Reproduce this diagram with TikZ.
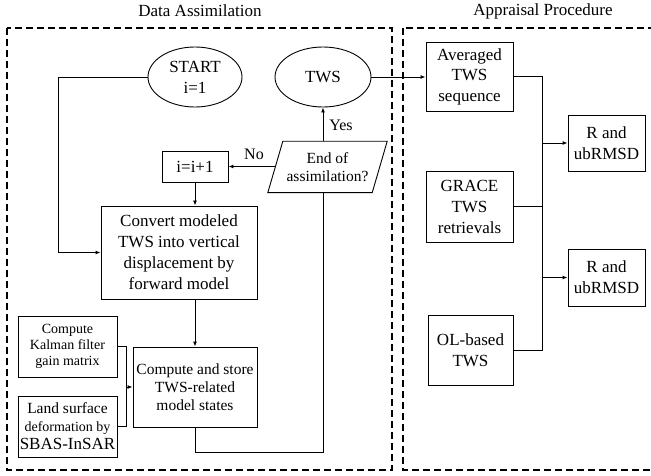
\documentclass[tikz,border=0pt]{standalone}
\usepackage{fontspec}
\setmainfont{Liberation Serif}
\usetikzlibrary{arrows.meta,shapes.geometric}
\begin{document}
\begin{tikzpicture}[x=1pt,y=-1pt,
  box/.style={draw, line width=0.9pt, align=center, inner sep=0pt,
    font=\fontsize{17}{21}\selectfont},
  oval/.style={box, ellipse},
  link/.style={line width=0.9pt},
  arr/.style={link, -{Latex[length=5pt,width=4pt]}},
  frame/.style={line width=1.2pt, dash pattern=on 7pt off 4pt},
  lbl/.style={font=\fontsize{16}{19}\selectfont},
  title/.style={font=\fontsize{17}{21}\selectfont}]
\useasboundingbox (0,0) rectangle (651,476);

% section frames and headings
\draw[frame] (7,28) rectangle (392,470);
\draw[frame] (403,28) rectangle (670,470);
\node[title] (t1) at (200,11) {Data Assimilation};
\node[title] (t2) at (543,11) {Appraisal Procedure};

% data assimilation loop
\node[oval, minimum width=94pt, minimum height=60pt] (start) at (195,77) {START\\i=1};
\node[oval, minimum width=96pt, minimum height=60pt] (tws) at (323,77) {TWS};
\node[box, minimum width=66pt, minimum height=31pt] (inc) at (195,166.5) {i=i+1};
\node[align=center, inner sep=0pt, minimum width=104pt, minimum height=51pt,
  font=\fontsize{15.5}{18}\selectfont] (endq) at (327.5,167) {End of\\assimilation?};
\draw[line width=0.9pt] ([xshift=7.5pt]endq.north west) -- ([xshift=7.5pt]endq.north east)
  -- ([xshift=-7.5pt]endq.south east) -- ([xshift=-7.5pt]endq.south west) -- cycle;
\node[box, minimum width=156pt, minimum height=93pt] (conv) at (179,252.5)
  {Convert modeled\\TWS into vertical\\displacement by\\forward model};
\node[box, minimum width=124pt, minimum height=80pt, font=\fontsize{15.5}{18}\selectfont]
  (store) at (195,387) {Compute and store\\TWS-related\\model states};
\node[box, minimum width=99pt, minimum height=61pt, font=\fontsize{14}{16}\selectfont]
  (kal) at (67.5,346.5) {Compute\\Kalman filter\\gain matrix};
\node[box, minimum width=99pt, minimum height=61pt, font=\fontsize{14}{18}\selectfont]
  (land) at (67.5,426.5) {{\fontsize{15.5}{18}\selectfont Land surface}\\deformation by\\{\fontsize{17}{18}\selectfont SBAS-InSAR}};

\node[lbl] (no) at (254,154) {No};
\node[lbl] (yes) at (341,125) {Yes};

\draw[arr] (start.west) -- ++(-89,0) |- (conv.west);
\draw[arr] (endq.west |- inc.east) -- (inc.east);
\draw[arr] (endq.north -| tws) -- (tws.south);
\draw[arr] (inc.south) -- (inc.south |- conv.north);
\draw[arr] (conv.south -| store) -- (store.north);
\draw[link] (kal.east) -- ++(9,0) |- (land.east);
\coordinate (merge) at (126,387);
\draw[arr] (merge) -- (store.west);
\draw[link] (store.south) -- ++(0,25) -| (endq.south -| tws);

% appraisal procedure
\node[box, minimum width=87pt, minimum height=69pt, font=\fontsize{17}{20.5}\selectfont]
  (avg) at (469.5,76.5) {Averaged\\TWS\\sequence};
\node[box, minimum width=87pt, minimum height=71pt, font=\fontsize{17}{21}\selectfont]
  (grace) at (469.5,206.5) {GRACE\\TWS\\retrievals};
\node[box, minimum width=85pt, minimum height=70pt] (ol) at (470.5,350) {OL-based\\TWS};
\node[box, minimum width=77pt, minimum height=56pt] (r1) at (606.5,143) {R and\\ubRMSD};
\node[box, minimum width=77pt, minimum height=57pt] (r2) at (606.5,277.5) {R and\\ubRMSD};

\draw[arr] (tws.east) -- (tws.east -| avg.west);
\coordinate (bus) at (542,0);
\draw[link] (avg.east) -- (avg.east -| bus) -- (ol.east -| bus) -- (ol.east);
\draw[link] (grace.east) -- (grace.east -| bus);
\draw[arr] (r1.west -| bus) -- (r1.west);
\draw[arr] (r2.west -| bus) -- (r2.west);
\end{tikzpicture}
\end{document}
